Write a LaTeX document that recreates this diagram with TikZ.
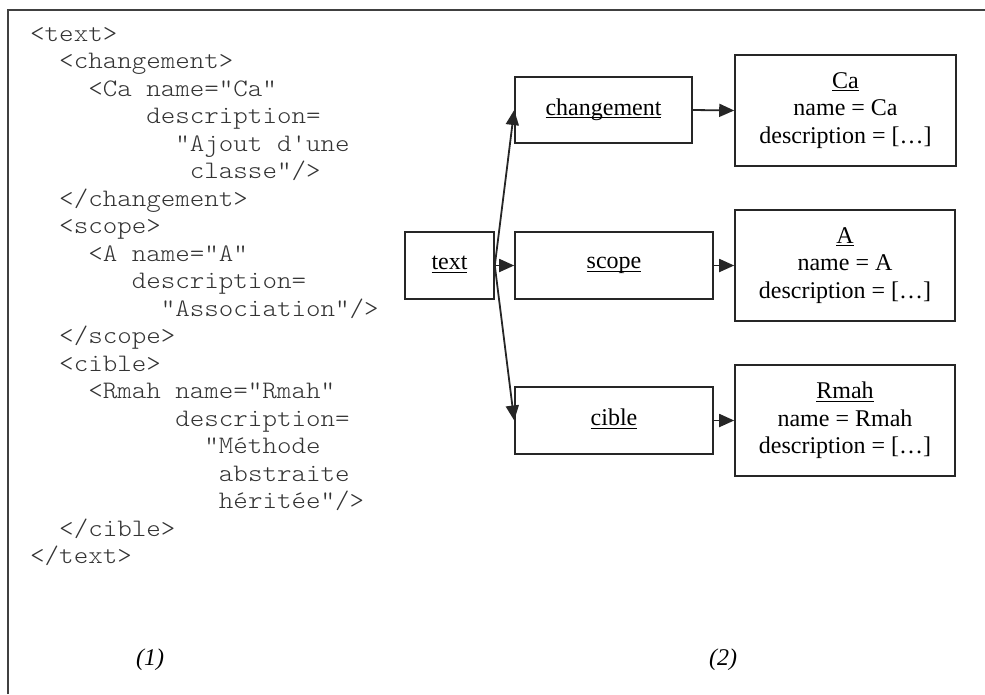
\documentclass[tikz,border=0pt]{standalone}
\usepackage{fontspec}
\setmainfont{Liberation Serif}
\setmonofont{lmmonolt10-regular.otf}[FakeStretch=1.1]
\usetikzlibrary{arrows.meta}
\newcommand{\myul}[1]{\setbox0\hbox{#1}\rlap{\rule[-3pt]{\wd0}{1pt}}\box0}
\begin{document}
\begin{tikzpicture}[x=1pt,y=-1pt,
  code/.style={anchor=base west, inner sep=0pt, font=\fontsize{25.14}{29}\ttfamily, text=black!80},
  box/.style={draw=black!85, line width=1.6pt, inner sep=0pt, align=center,
    font=\fontsize{24}{27.5}\selectfont},
  conn/.style={line width=1.8pt, draw=black!85, fill=black!85, -{Triangle[length=15pt,width=13pt]}},
  capt/.style={inner sep=0pt, font=\fontsize{24}{28}\selectfont\itshape}]
\useasboundingbox (0,0) rectangle (985,694);
% frame
\draw[line width=1.5pt, draw=black!75] (8,694) -- (8,10) -- (985,10);
% listing
\node[code] (l1)  at ({30+0*14.52},{41+0*27.5})  {<text>};
\node[code] (l2)  at ({30+2*14.52},{41+1*27.5})  {<changement>};
\node[code] (l3)  at ({30+4*14.52},{41+2*27.5})  {<Ca name="Ca"};
\node[code] (l4)  at ({30+8*14.52},{41+3*27.5})  {description=};
\node[code] (l5)  at ({30+10*14.52},{41+4*27.5}) {"Ajout d'une};
\node[code] (l6)  at ({30+11*14.52},{41+5*27.5}) {classe"/>};
\node[code] (l7)  at ({30+2*14.52},{41+6*27.5})  {</changement>};
\node[code] (l8)  at ({30+2*14.52},{41+7*27.5})  {<scope>};
\node[code] (l9)  at ({30+4*14.52},{41+8*27.5})  {<A name="A"};
\node[code] (l10) at ({30+7*14.52},{41+9*27.5})  {description=};
\node[code] (l11) at ({30+9*14.52},{41+10*27.5}) {"Association"/>};
\node[code] (l12) at ({30+2*14.52},{41+11*27.5}) {</scope>};
\node[code] (l13) at ({30+2*14.52},{41+12*27.5}) {<cible>};
\node[code] (l14) at ({30+4*14.52},{41+13*27.5}) {<Rmah name="Rmah"};
\node[code] (l15) at ({30+10*14.52},{41+14*27.5}) {description=};
\node[code] (l16) at ({30+12*14.52},{41+15*27.5}) {"Méthode};
\node[code] (l17) at ({30+13*14.52},{41+16*27.5}) {abstraite};
\node[code] (l18) at ({30+13*14.52},{41+17*27.5}) {héritée"/>};
\node[code] (l19) at ({30+2*14.52},{41+18*27.5}) {</cible>};
\node[code] (l20) at ({30+0*14.52},{41+19*27.5}) {</text>};
% tree boxes
\node[box, minimum width=89pt, minimum height=67pt] (txt) at (449.5,265.5) {\raisebox{5pt}{\myul{text}}};
\node[box, minimum width=177pt, minimum height=66pt] (chg) at (603.5,110) {\raisebox{6pt}{\myul{changement}}};
\node[box, minimum width=198pt, minimum height=67pt] (scp) at (614,265.5) {\raisebox{5pt}{\myul{scope}}};
\node[box, minimum width=198pt, minimum height=67pt] (cib) at (614,420.5) {\raisebox{6pt}{\myul{cible}}};
\node[box, minimum width=221pt, minimum height=111pt] (ca) at (845.5,110.5) {\myul{Ca}\\name = Ca\\description = […]};
\node[box, minimum width=220pt, minimum height=111pt] (a) at (845,265.5) {\myul{A}\\name = A\\description = […]};
\node[box, minimum width=220pt, minimum height=111pt] (rm) at (845,420.5) {\myul{Rmah}\\name = Rmah\\description = […]};
% connectors
\draw[conn] (txt.east) -- (chg.west);
\draw[conn] (txt.east) -- (scp.west);
\draw[conn] (txt.east) -- (cib.west);
\draw[conn] (chg.east) -- (ca.west);
\draw[conn] (scp.east) -- (a.west);
\draw[conn] (cib.east) -- (rm.west);
% captions
\node[capt] (c1) at (150,660) {(1)};
\node[capt] (c2) at (723,660) {(2)};
\end{tikzpicture}
\end{document}
